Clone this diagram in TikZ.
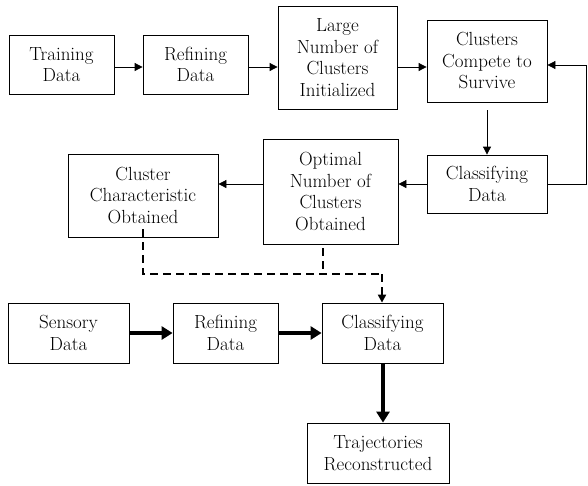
\documentclass[tikz,border=0pt]{standalone}
\usetikzlibrary{arrows.meta,calc}
\begin{document}
\begin{tikzpicture}[x=1pt,y=-1pt,
  box/.style={draw,line width=0.8pt,inner sep=0pt,align=center,font=\fontsize{19}{21.5}\selectfont},
  thinarrow/.style={line width=0.8pt,-{Triangle[length=8pt,width=8pt]}},
  thickarrow/.style={line width=4pt,-{Triangle[length=11pt,width=13pt]}},
  dashline/.style={line width=2pt,dash pattern=on 8pt off 5pt}
]
\fill[white] (0,0) rectangle (588,485);
\useasboundingbox (0,0) rectangle (588,485);

\node[box,minimum width=105pt,minimum height=59pt] (train) at (61.5,64.5) {Training\\Data};
\node[box,minimum width=105pt,minimum height=59pt] (refineA) at (195.5,64.5) {Refining\\Data};
\node[box,minimum width=119pt,minimum height=103pt] (large) at (337.5,57.5) {Large\\Number of\\Clusters\\Initialized};
\node[box,minimum width=120pt,minimum height=82pt] (compete) at (487,61) {Clusters\\Compete to\\Survive};
\node[box,minimum width=120pt,minimum height=58pt] (classA) at (487,184) {Classifying\\Data};
\node[box,minimum width=135pt,minimum height=105pt] (optimal) at (330.5,191.5) {Optimal\\Number of\\Clusters\\Obtained};
\node[box,minimum width=150pt,minimum height=83pt] (charac) at (143,195.5) {Cluster\\Characteristic\\Obtained};
\node[box,minimum width=121pt,minimum height=60pt] (sensory) at (68.5,333) {Sensory\\Data};
\node[box,minimum width=105pt,minimum height=60pt] (refineB) at (225.5,333) {Refining\\Data};
\node[box,minimum width=121pt,minimum height=60pt] (classB) at (382.5,333) {Classifying\\Data};
\node[box,minimum width=142pt,minimum height=60pt] (traj) at (378,453) {Trajectories\\Reconstructed};

\coordinate (rowA) at (0,67);
\coordinate (loopR) at (586,65);
\coordinate (dashY) at (0,274);
\coordinate (dashOpt) at (323,0);
\coordinate (dashIn) at (382,0);

\draw[thinarrow] (train.east |- rowA) -- (refineA.west |- rowA);
\draw[thinarrow] (refineA.east |- rowA) -- (large.west |- rowA);
\draw[thinarrow] (large.east |- rowA) -- (compete.west |- rowA);
\draw[thinarrow,shorten <=8pt] (compete.south) -- (classA.north);
\draw[thinarrow] (classA.east) -- (loopR |- classA.east) -- (loopR) -- (compete.east |- loopR);
\draw[thinarrow] (classA.west) -- (optimal.east |- classA.west);
\draw[thinarrow] (optimal.west |- classA.west) -- (charac.east |- classA.west);

\draw[dashline] ([yshift=8pt]charac.south) -- (charac.south |- dashY) -- (dashIn |- dashY);
\draw[dashline] (dashOpt |- optimal.south) ++(0,4) -- (dashOpt |- dashY);
\draw[dashline,-{Triangle[length=8pt,width=8pt]}] (dashIn |- dashY) -- (dashIn |- classB.north);

\draw[thickarrow] (sensory) -- (refineB);
\draw[thickarrow] (refineB) -- (classB);
\draw[thickarrow] (classB.south -| traj.north) ++(5,0) -- ([xshift=5pt]traj.north);
\end{tikzpicture}
\end{document}
